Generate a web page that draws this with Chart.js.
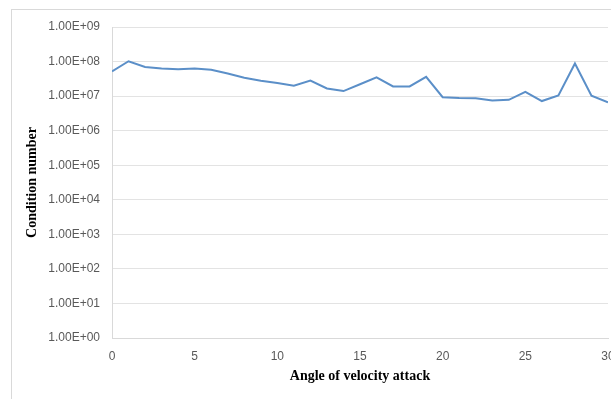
<!DOCTYPE html>
<html lang="en">
<head>
  <meta charset="UTF-8">
  <title>Condition number vs angle of velocity attack</title>
  <script src="https://cdn.jsdelivr.net/npm/chart.js"></script>
  <style>
    html, body { margin:0; padding:0; background:#fff; overflow:hidden; width:611px; height:399px; }
    .frame { position:absolute; left:11px; top:9px; width:700px; height:500px; border:1px solid #d9d9d9; box-sizing:border-box; }
    .wrap { position:absolute; left:0; top:0; width:640px; height:399px; }
  </style>
</head>
<body>
  <div class="frame"></div>
  <div class="wrap"><canvas id="chart" width="640" height="399"></canvas></div>
<script>
const angles = [0,1,2,3,4,5,6,7,8,9,10,11,12,13,14,15,16,17,18,19,20,21,22,23,24,25,26,27,28,29,30];
const conditionNumbers = [
  5.2e7, 1.02e8, 7.0e7, 6.3e7, 6.0e7, 6.3e7, 5.8e7, 4.5e7, 3.4e7, 2.8e7,
  2.4e7, 2.0e7, 2.8e7, 1.66e7, 1.4e7, 2.2e7, 3.5e7, 1.9e7, 1.9e7, 3.6e7,
  9.3e6, 8.8e6, 8.7e6, 7.5e6, 7.8e6, 1.33e7, 7.2e6, 1.05e7, 8.8e7, 1.03e7, 6.6e6
];
const yTickValues = [1e0,1e1,1e2,1e3,1e4,1e5,1e6,1e7,1e8,1e9];
const yTickLabels = ["1.00E+00","1.00E+01","1.00E+02","1.00E+03","1.00E+04","1.00E+05","1.00E+06","1.00E+07","1.00E+08","1.00E+09"];
const xTickValues = [0,5,10,15,20,25,30];

const tickFont = { family:'Liberation Sans', size:12 };
const titleFont = { family:'Liberation Serif', size:14, weight:'bold' };

new Chart(document.getElementById('chart').getContext('2d'), {
  type:'line',
  data:{
    datasets:[{
      data: angles.map((a,i)=>({x:a, y:conditionNumbers[i]})),
      borderColor:'#5b8fc8',
      borderWidth:2,
      pointRadius:0,
      tension:0,
      fill:false
    }]
  },
  options:{
    responsive:false,
    animation:false,
    layout:{ padding:{ top:27, right:32, bottom:0, left:0 } },
    plugins:{ legend:{display:false}, tooltip:{enabled:false} },
    scales:{
      x:{
        type:'linear', min:0, max:30,
        afterBuildTicks: s => { s.ticks = xTickValues.map(v=>({value:v})); },
        afterFit: s => { s.height = 61; },
        grid:{ display:false, drawTicks:false },
        border:{ display:true, color:'#d9d9d9', width:1 },
        ticks:{ color:'#595959', font:tickFont, padding:11, maxRotation:0 },
        title:{ display:true, text:'Angle of velocity attack', color:'#000', font:titleFont, padding:{top:0,bottom:14} }
      },
      y:{
        type:'logarithmic', min:1, max:1e9,
        afterBuildTicks: s => { s.ticks = yTickValues.map(v=>({value:v})); },
        afterFit: s => { s.width = 112; },
        grid:{ color:'#e3e3e3', lineWidth:1, drawTicks:false },
        border:{ display:true, color:'#d9d9d9', width:1 },
        ticks:{
          color:'#595959', font:tickFont, padding:12,
          callback: v => yTickLabels[yTickValues.indexOf(v)]
        },
        title:{ display:true, text:'Condition number', color:'#000', font:titleFont, padding:{top:24,bottom:0} }
      }
    }
  }
});
</script>
</body>
</html>
